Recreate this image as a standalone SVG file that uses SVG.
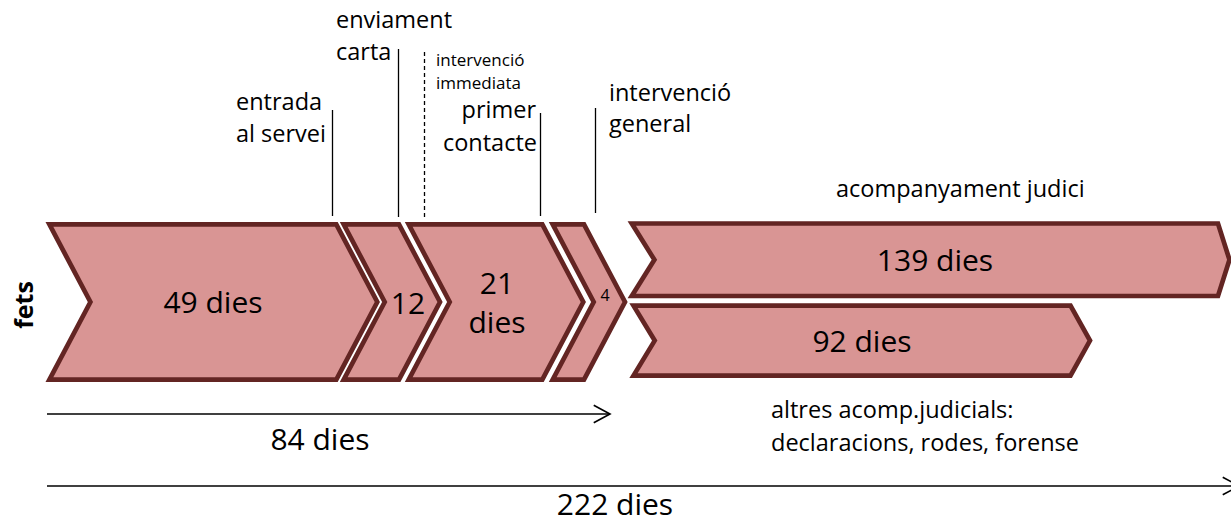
<svg xmlns="http://www.w3.org/2000/svg" width="1231" height="524" viewBox="0 0 1231 524">
<style>
.chev{fill:#D99594;stroke:#632523;stroke-width:4.7;stroke-linejoin:miter}
.t{font-family:"Open Sans","Liberation Sans",sans-serif;fill:#000}
.lab{font-size:23.5px}
.big{font-size:30px}
.tick{stroke:#000;stroke-width:1.3;fill:none}
.arr{stroke:#000;stroke-width:1.4;fill:none}
</style>
<defs>
<marker id="open" markerUnits="userSpaceOnUse" markerWidth="20" markerHeight="20" viewBox="-14 -8 16 16" refX="0" refY="0" orient="auto">
<polyline points="-13,-7 0,0 -13,7" fill="none" stroke="#000" stroke-width="1.3"/>
</marker>
</defs>
<text class="t" font-size="25" font-weight="bold" text-anchor="middle" transform="translate(33,305) rotate(-90)">fets</text>
<g id="ticks">
<line class="tick" x1="332.5" y1="110" x2="332.5" y2="216"/>
<line class="tick" x1="398.5" y1="49" x2="398.5" y2="217"/>
<line class="tick" x1="424.5" y1="52" x2="424.5" y2="218" stroke-dasharray="4,3"/>
<line class="tick" x1="540.5" y1="113" x2="540.5" y2="216"/>
<line class="tick" x1="595.5" y1="108" x2="595.5" y2="213"/>
</g>
<g id="labels">
<text class="t lab" x="236" y="110">entrada</text>
<text class="t lab" x="236" y="142">al servei</text>
<text class="t lab" x="336" y="28">enviament</text>
<text class="t lab" x="336" y="60">carta</text>
<text class="t" font-size="17" x="436" y="66">intervenció</text>
<text class="t" font-size="17" x="436" y="89">immediata</text>
<text class="t lab" x="536" y="118" text-anchor="end">primer</text>
<text class="t lab" x="537" y="151" text-anchor="end">contacte</text>
<text class="t lab" x="609" y="101">intervenció</text>
<text class="t lab" x="609" y="132">general</text>
<text class="t lab" x="836" y="197">acompanyament judici</text>
</g>
<g id="n49">
<path class="chev" d="M49.4,224.4 L336.3,224.4 L377.3,302 L336.3,379.6 L49.4,379.6 L90.4,302 Z"/>
<text class="t big" x="213" y="313" text-anchor="middle">49 dies</text>
</g>
<g id="n12">
<path class="chev" d="M343.7,224.4 L399,224.4 L440,302 L399,379.6 L343.7,379.6 L384.7,302 Z"/>
<text class="t big" x="408" y="314" text-anchor="middle">12</text>
</g>
<g id="n21">
<path class="chev" d="M408.7,224.4 L542.3,224.4 L583.3,302 L542.3,379.6 L408.7,379.6 L449.7,302 Z"/>
<text class="t big" x="497" y="294" text-anchor="middle">21</text>
<text class="t big" x="497" y="333" text-anchor="middle">dies</text>
</g>
<g id="n4">
<path class="chev" d="M552.7,224.4 L584,224.4 L625,302 L584,379.6 L552.7,379.6 L593.7,302 Z"/>
<text class="t" font-size="16" x="605" y="301" text-anchor="middle">4</text>
</g>
<g id="n139">
<path class="chev" d="M631.8,223.5 L1218,223.5 L1229.5,259.8 L1218,296 L631.8,296 L654.4,259.8 Z"/>
<text class="t big" x="935" y="271" text-anchor="middle">139 dies</text>
</g>
<g id="n92">
<path class="chev" d="M633.5,305.7 L1070.5,305.7 L1090,340.6 L1070.5,375.6 L633.5,375.6 L654.7,340.6 Z"/>
<text class="t big" x="862" y="352" text-anchor="middle">92 dies</text>
</g>
<g id="connectors">
<line class="arr" x1="47" y1="414" x2="610" y2="414" marker-end="url(#open)"/>
<line class="arr" x1="47" y1="486" x2="1239" y2="486" marker-end="url(#open)"/>
</g>
<g id="bottom-labels">
<text class="t big" x="320" y="450" text-anchor="middle">84 dies</text>
<text class="t" font-size="30" x="615" y="515" text-anchor="middle">222 dies</text>
<text class="t lab" x="771" y="418">altres acomp.judicials:</text>
<text class="t lab" x="771" y="451">declaracions, rodes, forense</text>
</g>
</svg>
